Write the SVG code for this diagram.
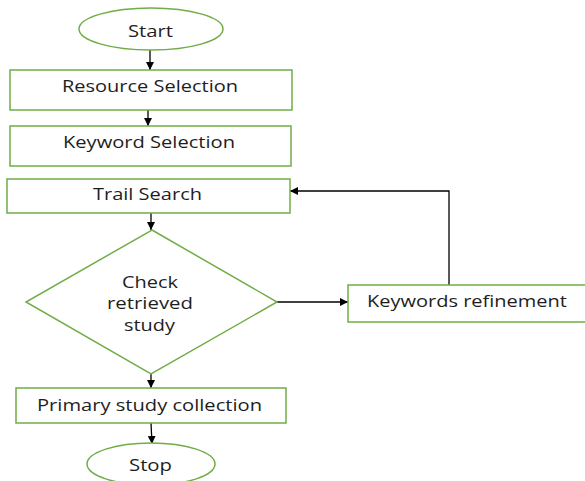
<svg xmlns="http://www.w3.org/2000/svg" width="585" height="481" viewBox="0 0 585 481">
  <style>
    .shape { fill: #ffffff; stroke: #70ad47; stroke-width: 1.5; }
    .label { font-family: "Open Sans", "Liberation Sans", sans-serif; font-size: 17px; fill: #1e1e1e; text-anchor: middle; dominant-baseline: central; }
    .multi { font-size: 15.4px; }
    .conn { fill: none; stroke: #000000; stroke-width: 1.3; }
  </style>
  <defs>
    <marker id="arrow" viewBox="0 0 10 10" refX="10" refY="5" markerWidth="8" markerHeight="8" markerUnits="userSpaceOnUse" orient="auto">
      <path d="M0,0 L10,5 L0,10 Z" fill="#000000"/>
    </marker>
  </defs>
  <rect width="585" height="481" fill="#ffffff"/>

  <g id="connectors">
    <line class="conn" x1="150" y1="50" x2="150" y2="70" marker-end="url(#arrow)"/>
    <line class="conn" x1="148" y1="110" x2="148" y2="126" marker-end="url(#arrow)"/>
    <line class="conn" x1="151" y1="213" x2="151" y2="230" marker-end="url(#arrow)"/>
    <line class="conn" x1="277" y1="302" x2="348" y2="302" marker-end="url(#arrow)"/>
    <polyline class="conn" points="449,285 449,191 290,191" marker-end="url(#arrow)"/>
    <line class="conn" x1="151" y1="374" x2="151" y2="388" marker-end="url(#arrow)"/>
    <line class="conn" x1="151" y1="423" x2="152" y2="444" marker-end="url(#arrow)"/>
  </g>

  <g id="start">
    <ellipse class="shape" cx="151" cy="29" rx="72" ry="21"/>
    <text class="label" x="150.5" y="30" textLength="45" lengthAdjust="spacingAndGlyphs">Start</text>
  </g>
  <g id="resource-selection">
    <rect class="shape" x="10" y="70" width="282" height="40"/>
    <text class="label" x="150" y="85" textLength="176" lengthAdjust="spacingAndGlyphs">Resource Selection</text>
  </g>
  <g id="keyword-selection">
    <rect class="shape" x="10" y="126" width="281" height="40"/>
    <text class="label" x="149" y="141" textLength="172" lengthAdjust="spacingAndGlyphs">Keyword Selection</text>
  </g>
  <g id="trail-search">
    <rect class="shape" x="7" y="179" width="283" height="34"/>
    <text class="label" x="147.5" y="193" textLength="109" lengthAdjust="spacingAndGlyphs">Trail Search</text>
  </g>
  <g id="check-retrieved-study">
    <polygon class="shape" points="152,230 277,302 151,374 26,302"/>
    <text class="label multi" x="150" y="282" textLength="56" lengthAdjust="spacingAndGlyphs">Check</text>
    <text class="label multi" x="150" y="303.5" textLength="86" lengthAdjust="spacingAndGlyphs">retrieved</text>
    <text class="label multi" x="149.5" y="325" textLength="51" lengthAdjust="spacingAndGlyphs">study</text>
  </g>
  <g id="keywords-refinement">
    <rect class="shape" x="348" y="285" width="240" height="37"/>
    <text class="label" x="467" y="300" textLength="200" lengthAdjust="spacingAndGlyphs">Keywords refinement</text>
  </g>
  <g id="primary-study-collection">
    <rect class="shape" x="16" y="388" width="270" height="35"/>
    <text class="label" x="149.5" y="404" textLength="225" lengthAdjust="spacingAndGlyphs">Primary study collection</text>
  </g>
  <g id="stop">
    <ellipse class="shape" cx="151" cy="464" rx="64" ry="21"/>
    <text class="label" x="150.5" y="464" textLength="43" lengthAdjust="spacingAndGlyphs">Stop</text>
  </g>
</svg>
